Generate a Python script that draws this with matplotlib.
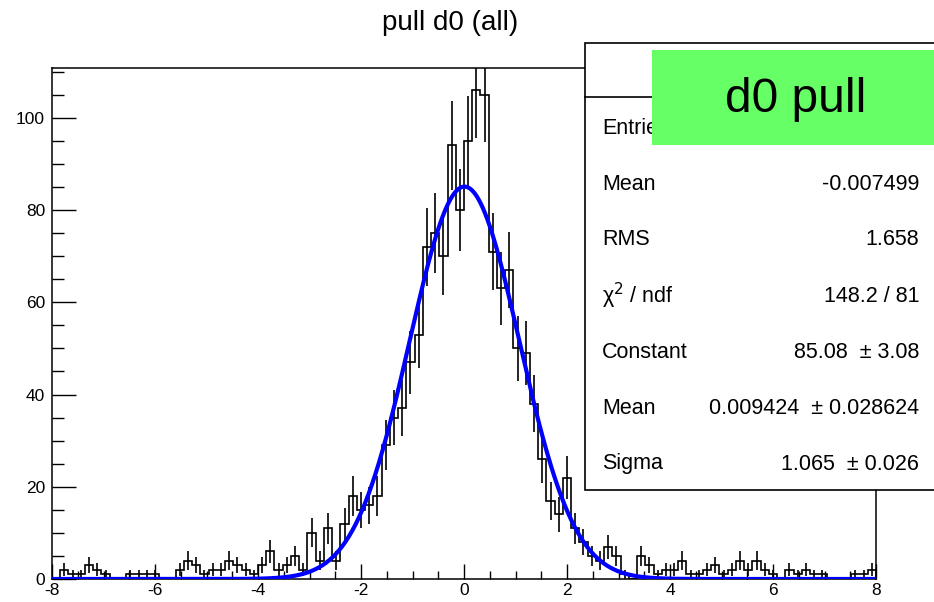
import numpy as np
import matplotlib.pyplot as plt
from matplotlib.patches import Rectangle
from matplotlib.lines import Line2D
from matplotlib.ticker import MultipleLocator

plt.rcParams['font.family'] = ['Liberation Sans', 'DejaVu Sans']
plt.rcParams['axes.unicode_minus'] = False

# pull histogram: 100 bins on [-8, 8]
bin_lo, bin_hi, n_bins = -8.0, 8.0, 100
counts = [
    0, 2, 1, 1, 3, 2, 1, 0, 0, 1,
    1, 1, 1, 0, 0, 2, 4, 3, 1, 2,
    2, 4, 3, 2, 1, 3, 6, 2, 3, 5,
    2, 10, 4, 11, 4, 12, 18, 15, 16, 18,
    29, 35, 37, 47, 53, 72, 75, 70, 94, 80,
    95, 106, 105, 71, 63, 67, 50, 49, 38, 26,
    17, 14, 22, 11, 8, 5, 4, 7, 5, 1,
    0, 5, 3, 1, 2, 2, 4, 1, 1, 2,
    3, 1, 2, 4, 2, 4, 2, 1, 0, 2,
    1, 2, 1, 1, 0, 0, 0, 1, 1, 2,
]

# gaussian fit result
fit_const = 85.08
fit_mean = 0.009424
fit_sigma = 1.065

stat_labels = ["Mean", "RMS", "\u03c7$^{2}$ / ndf", "Constant", "Mean", "Sigma"]
stat_values = ["-0.007499", "1.658", "148.2 / 81", "85.08  \u00b1 3.08",
               "0.009424  \u00b1 0.028624", "1.065  \u00b1 0.026"]

edges = np.linspace(bin_lo, bin_hi, n_bins + 1)
h = np.array(counts, dtype=float)
centers = 0.5 * (edges[:-1] + edges[1:])

W, H = 934, 602
fig = plt.figure(figsize=(W / 100, H / 100), dpi=100)
ax = fig.add_axes([52 / W, 1 - 579 / H, (876 - 52) / W, (579 - 68) / H])

ax.stairs(h, edges, color='black', lw=1.2, zorder=2)
nz = h > 0
err = np.sqrt(h[nz])
ax.vlines(centers[nz], h[nz] - err, h[nz] + err, color='black', lw=1.2, zorder=2)

xf = np.linspace(bin_lo, bin_hi, 1000)
yf = fit_const * np.exp(-0.5 * ((xf - fit_mean) / fit_sigma) ** 2)
ax.plot(xf, yf, color='#0000ff', lw=3, zorder=3)

ax.set_xlim(bin_lo, bin_hi)
ax.set_ylim(0, 110.8)
ax.set_xticks(np.arange(-8, 9, 2))
ax.xaxis.set_minor_locator(MultipleLocator(0.5))
ax.set_yticks(np.arange(0, 101, 20))
ax.yaxis.set_minor_locator(MultipleLocator(5))
ax.tick_params(axis='x', which='major', direction='in', length=11, width=1, labelsize=12.5, pad=3)
ax.tick_params(axis='x', which='minor', direction='in', length=5.5, width=1)
ax.tick_params(axis='y', which='major', direction='in', length=17, width=1, labelsize=12.5, pad=5)
ax.tick_params(axis='y', which='minor', direction='in', length=8.5, width=1)
for s in ax.spines.values():
    s.set_linewidth(1.1)

fig.text(450 / W, 1 - 23 / H, "pull d0 (all)", ha='center', va='center', fontsize=20)

# statistics box
x0, y0, y1 = 585 / W, 1 - 490 / H, 1 - 43 / H
fig.patches.append(Rectangle((x0, y0), 1.05 - x0, y1 - y0, transform=fig.transFigure,
                             facecolor='white', edgecolor='black', lw=1.2, zorder=5))
fig.lines.append(Line2D([x0, 1.0], [1 - 97 / H] * 2, transform=fig.transFigure,
                        color='black', lw=1.2, zorder=6))
fig.text(602 / W, 1 - 128 / H, "Entries", ha='left', va='center', fontsize=15.5, zorder=7)
for i, (lab, val) in enumerate(zip(stat_labels, stat_values)):
    yy = 1 - (184 + 56 * i) / H
    fig.text(602 / W, yy, lab, ha='left', va='center', fontsize=15.5, zorder=7)
    fig.text(919 / W, yy, val, ha='right', va='center', fontsize=15.5, zorder=7)

# label box
fig.patches.append(Rectangle((652 / W, 1 - 145 / H), 1.01 - 652 / W, (145 - 50) / H,
                             transform=fig.transFigure, facecolor='#66ff66',
                             edgecolor='none', zorder=8))
fig.text(796 / W, 1 - 100 / H, "d0 pull", ha='center', va='center', fontsize=34.5, zorder=9)

fig.savefig("out.png", dpi=100)
